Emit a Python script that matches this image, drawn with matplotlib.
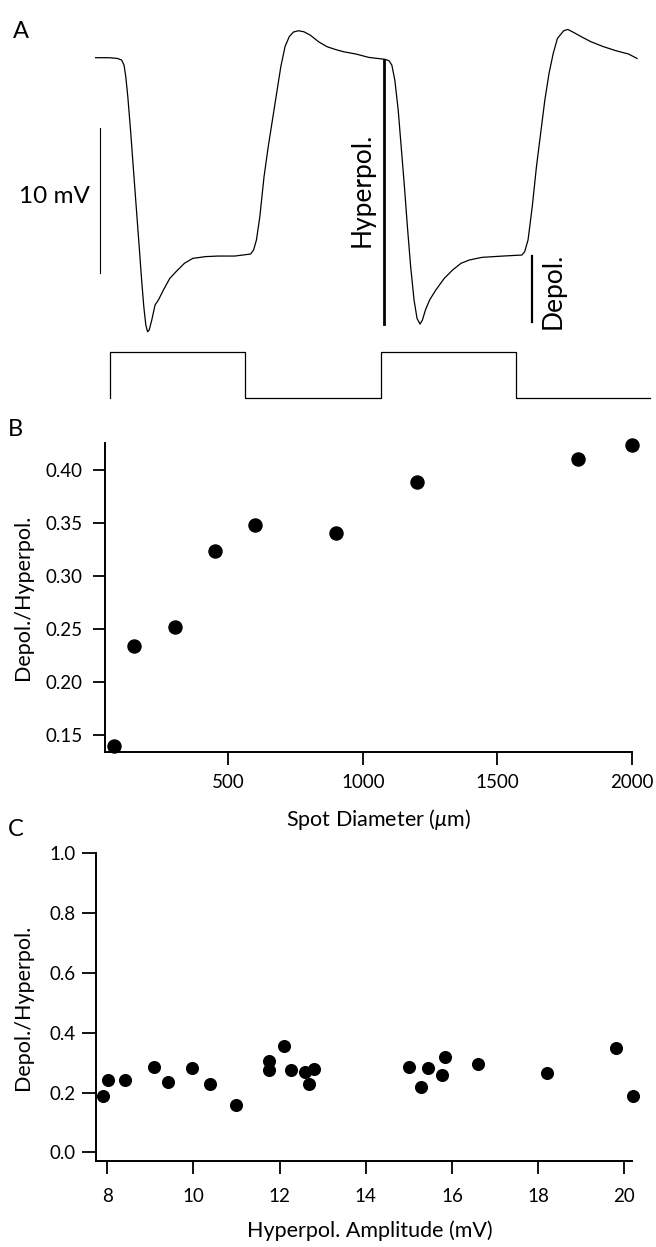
import matplotlib
matplotlib.use('Agg')
import matplotlib.pyplot as plt
from matplotlib.ticker import FormatStrFormatter

plt.rcParams['font.family'] = ['Lato', 'DejaVu Sans']
plt.rcParams['mathtext.fontset'] = 'custom'
plt.rcParams['mathtext.it'] = 'Lato:italic'
plt.rcParams['mathtext.rm'] = 'Lato'

# ---------------- Panel A data (time in s, membrane potential in mV) -------------
trace_t = [-0.105, -0.006, 0.056, 0.087, 0.105, 0.118, 0.133, 0.155, 0.173, 0.195,
           0.217, 0.235, 0.251, 0.266, 0.279, 0.291, 0.310, 0.334, 0.359, 0.396,
           0.443, 0.489, 0.551, 0.613, 0.706, 0.799, 0.923, 1.040, 1.062, 1.083,
           1.108, 1.139, 1.170, 1.201, 1.232, 1.263, 1.294, 1.325, 1.356, 1.393,
           1.433, 1.480, 1.542, 1.604, 1.665, 1.727, 1.820, 1.913, 2.031, 2.062,
           2.083, 2.105, 2.130, 2.154, 2.176, 2.198, 2.222, 2.247, 2.269, 2.291,
           2.309, 2.331, 2.362, 2.408, 2.470, 2.532, 2.594, 2.656, 2.749, 2.904,
           3.043, 3.064, 3.089, 3.120, 3.151, 3.182, 3.213, 3.244, 3.275, 3.306,
           3.352, 3.383, 3.430, 3.492, 3.554, 3.646, 3.739, 3.832, 3.894]
trace_v = [0.00, 0.00, -0.05, -0.16, -0.51, -1.31, -2.69, -5.22, -7.52, -10.28,
           -13.03, -15.33, -17.17, -18.44, -18.90, -18.78, -18.09, -17.06, -16.71, -16.02,
           -15.22, -14.76, -14.18, -13.84, -13.72, -13.68, -13.68, -13.54, -13.26, -12.57,
           -10.97, -8.21, -6.14, -4.30, -2.46, -0.62, 0.76, 1.45, 1.77, 1.86,
           1.79, 1.56, 1.10, 0.76, 0.57, 0.41, 0.25, 0.02, -0.11, -0.21,
           -0.51, -1.54, -3.61, -6.37, -8.90, -11.66, -14.41, -16.71, -17.98, -18.37,
           -18.09, -17.40, -16.71, -16.02, -15.22, -14.64, -14.18, -13.95, -13.77, -13.68,
           -13.61, -13.38, -12.57, -10.28, -7.52, -5.22, -2.92, -1.08, 0.30, 1.33,
           1.86, 1.95, 1.72, 1.40, 1.10, 0.76, 0.48, 0.25, -0.05]

stim_t = [0, 0, 1, 1, 2, 2, 3, 3, 3.99]
stim_level = [0, 1, 1, 0, 0, 1, 1, 0, 0]

scale_t = -0.072
scale_v = [-14.85, -4.85]
hyper_t = 2.027
hyper_v = [-0.16, -18.37]
depol_t = 3.118
depol_v = [-13.68, -18.23]

# ---------------- Panel B data -------------
spot_diameter = [75, 150, 300, 450, 600, 900, 1200, 1800, 2000]
ratio_b = [0.140, 0.234, 0.252, 0.324, 0.348, 0.341, 0.389, 0.411, 0.424]
b_xticks = [500, 1000, 1500, 2000]
b_yticks = [0.15, 0.20, 0.25, 0.30, 0.35, 0.40]

# ---------------- Panel C data -------------
hyper_amp = [7.91, 8.03, 8.42, 9.09, 9.42, 9.97, 10.39, 10.99, 11.76, 11.76,
             12.11, 12.27, 12.60, 12.69, 12.80, 15.00, 15.29, 15.44, 15.77, 15.83,
             16.61, 18.21, 19.80, 20.20]
ratio_c = [0.187, 0.243, 0.243, 0.285, 0.234, 0.281, 0.228, 0.158, 0.306, 0.276,
           0.354, 0.275, 0.267, 0.229, 0.279, 0.286, 0.219, 0.281, 0.260, 0.319,
           0.296, 0.265, 0.348, 0.187]
c_xticks = [8, 10, 12, 14, 16, 18, 20]
c_yticks = [0.0, 0.2, 0.4, 0.6, 0.8, 1.0]

W, H = 656, 1247
fig = plt.figure(figsize=(W / 100, H / 100), dpi=100)


def rect(left, top, right, bottom):
    return [left / W, 1 - bottom / H, (right - left) / W, (bottom - top) / H]


def fpos(x, y):
    return x / W, 1 - y / H


# ---------------- Panel A -------------
axA = fig.add_axes(rect(0, 0, 656, 340))
axA.set_xlim(-0.811, 4.034)
axA.set_ylim(-19.47, 3.98)
axA.axis('off')
axA.plot(trace_t, trace_v, color='black', lw=0.9)
axA.plot([scale_t, scale_t], scale_v, color='black', lw=0.8)
axA.plot([hyper_t, hyper_t], hyper_v, color='black', lw=2.0)
axA.plot([depol_t, depol_t], depol_v, color='black', lw=1.6)
axA.text(-0.146, -9.6, '10 mV', ha='right', va='center', fontsize=17.5)
axA.text(1.866, -9.12, 'Hyperpol.', rotation=90, ha='center', va='center', fontsize=19)
axA.text(3.273, -16.1, 'Depol.', rotation=90, ha='center', va='center', fontsize=19)

axS = fig.add_axes(rect(0, 340, 656, 420))
axS.set_xlim(-0.811, 4.034)
axS.set_ylim(-0.466, 1.251)
axS.axis('off')
axS.plot(stim_t, stim_level, color='black', lw=0.9)

fig.text(*fpos(13, 31.5), 'A', ha='left', va='center', fontsize=17)
fig.text(*fpos(8, 430), 'B', ha='left', va='center', fontsize=17)
fig.text(*fpos(8, 830), 'C', ha='left', va='center', fontsize=17)


def style(ax):
    for s in ['top', 'right']:
        ax.spines[s].set_visible(False)
    for s in ['left', 'bottom']:
        ax.spines[s].set_linewidth(1.4)
    ax.tick_params(direction='out', width=1.3, labelsize=13.5)


# ---------------- Panel B -------------
axB = fig.add_axes(rect(105, 442.7, 632, 752.3))
axB.plot(spot_diameter, ratio_b, 'o', color='black', ms=9.4, clip_on=False)
axB.set_xlim(41, 2000)
axB.set_ylim(0.134, 0.426)
axB.set_xticks(b_xticks)
axB.set_yticks(b_yticks)
axB.yaxis.set_major_formatter(FormatStrFormatter('%.2f'))
style(axB)
axB.tick_params(axis='x', length=9.4, pad=6)
axB.tick_params(axis='y', length=9.0, pad=7)
fig.text(*fpos(378, 820), r'Spot Diameter ($\mu$m)', ha='center', va='center', fontsize=15.5)
fig.text(*fpos(23, 597), 'Depol./Hyperpol.', rotation=90, ha='center', va='center', fontsize=15.5)

# ---------------- Panel C -------------
axC = fig.add_axes(rect(95.5, 853.3, 631.7, 1161.3))
axC.plot(hyper_amp, ratio_c, 'o', color='black', ms=8.4, clip_on=False)
axC.set_xlim(7.73, 20.17)
axC.set_ylim(-0.03, 1.0)
axC.set_xticks(c_xticks)
axC.set_yticks(c_yticks)
axC.yaxis.set_major_formatter(FormatStrFormatter('%.1f'))
style(axC)
axC.tick_params(axis='x', length=9.4, pad=10)
axC.tick_params(axis='y', length=10, pad=4)
fig.text(*fpos(370, 1231), 'Hyperpol. Amplitude (mV)', ha='center', va='center', fontsize=15.5)
fig.text(*fpos(23, 1007), 'Depol./Hyperpol.', rotation=90, ha='center', va='center', fontsize=15.5)

fig.savefig('out.png', dpi=100)
